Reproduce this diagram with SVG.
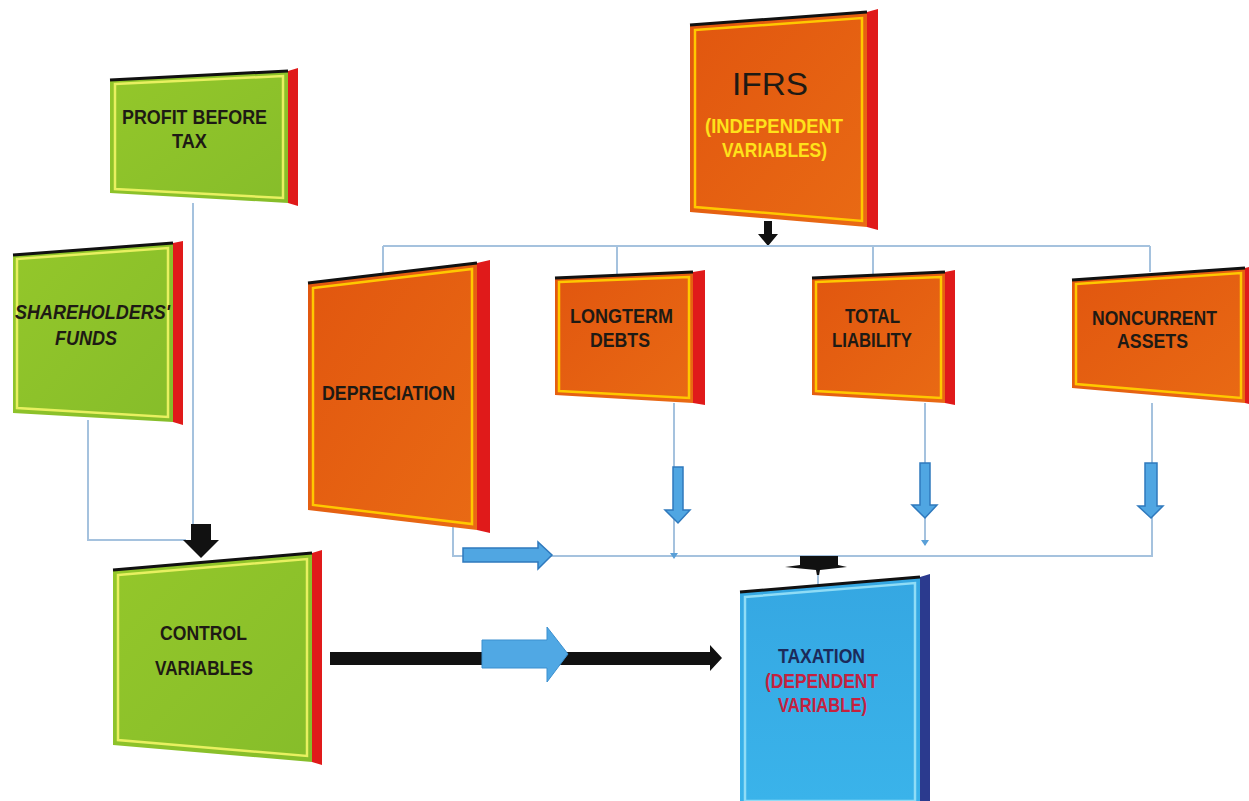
<svg xmlns="http://www.w3.org/2000/svg" width="1249" height="801" viewBox="0 0 1249 801">
<defs>
<linearGradient id="gGreen" x1="0" y1="0" x2="1" y2="1"><stop offset="0" stop-color="#94c72a"/><stop offset="1" stop-color="#86bd2a"/></linearGradient>
<linearGradient id="gOrange" x1="0" y1="0" x2="1" y2="1"><stop offset="0" stop-color="#e1560f"/><stop offset="1" stop-color="#e96a14"/></linearGradient>
<linearGradient id="gBlue" x1="0" y1="0" x2="0" y2="1"><stop offset="0" stop-color="#35a7e2"/><stop offset="1" stop-color="#3ab3ea"/></linearGradient>
<style>
.t{font-family:"Liberation Sans",Arial,sans-serif;font-size:21px;font-weight:bold;fill:#1e1a14;text-anchor:start}
.side{fill:#e01a1a}
.top{stroke:#111;stroke-width:3;fill:none}
.inG{fill:none;stroke:#e8f060;stroke-width:2.5}
.inO{fill:none;stroke:#ffc800;stroke-width:2.5}
.inB{fill:none;stroke:#8fdcf6;stroke-width:2.5}
.ln{fill:none;stroke:#a5c2de;stroke-width:2}
.ba{fill:#50a6e2;stroke:#2f79bd;stroke-width:1.5}
.blk{fill:#111}
</style>
</defs>
<rect width="1249" height="801" fill="#fff"/>

<g id="connectors">
<line class="ln" x1="193" y1="203" x2="193" y2="527"/>
<polyline class="ln" points="88,420 88,540 186,540"/>
<polygon class="blk" points="191,524 211,524 211,540 219,540 201,558 183,540 191,540"/>
<polygon class="blk" points="764,221 772,221 772,234 778,234 768,246 758,234 764,234"/>
<polyline class="ln" points="383,246 1150,246"/>
<line class="ln" x1="383" y1="246" x2="383" y2="274"/>
<line class="ln" x1="617" y1="246" x2="617" y2="276"/>
<line class="ln" x1="873" y1="246" x2="873" y2="276"/>
<line class="ln" x1="1150" y1="246" x2="1150" y2="272"/>
<line class="ln" x1="674" y1="403" x2="674" y2="556"/>
<line class="ln" x1="925" y1="403" x2="925" y2="545"/>
<polyline class="ln" points="1152,403 1152,556 455,556"/>
<polyline class="ln" points="421,493 453,493 453,556 464,556"/>
<polygon fill="#5aa0d8" points="670,553 678,553 674,559"/>
<polygon fill="#5aa0d8" points="921,540 929,540 925,546"/>
<polygon class="ba" points="463,548 538,548 538,542 552,555 538,569 538,562 463,562"/>
<polygon class="ba" points="673,467 683,467 683,510 690,510 678,523 665,510 673,510"/>
<polygon class="ba" points="920,463 930,463 930,505 937,505 925,518 912,505 920,505"/>
<polygon class="ba" points="1145,463 1157,463 1157,506 1163,506 1151,518 1138,506 1145,506"/>
<polygon class="blk" points="800,556 838,556 838,565 847,567 820,570 818,581 816,570 785,567 800,565"/>
<line class="ln" x1="818" y1="575" x2="818" y2="589"/>
<polygon class="blk" points="330,652 710,652 710,645 722,658 710,671 710,665 330,665"/>
<polygon fill="#50a8e4" stroke="#3b8fcf" stroke-width="1" points="482,640 547,640 547,627 568,654 547,682 547,668 482,668"/>
</g>

<g id="node-profit-before-tax">
<polygon class="side" points="288,71 298,68 298,206 288,203"/>
<polygon fill="url(#gGreen)" points="110,80 288,71 288,203 110,193"/>
<polygon class="inG" points="115,84 283,76 283,198 115,189"/>
<line class="top" x1="110" y1="80" x2="288" y2="71"/>
<text class="t" x="122" y="124" textLength="145" lengthAdjust="spacingAndGlyphs">PROFIT BEFORE</text>
<text class="t" x="172" y="148" textLength="35" lengthAdjust="spacingAndGlyphs">TAX</text>
</g>

<g id="node-shareholders-funds">
<polygon class="side" points="173,243 183,241 183,425 173,422"/>
<polygon fill="url(#gGreen)" points="13,255 173,243 173,422 13,413"/>
<polygon class="inG" points="17,259 168,248 168,417 17,408"/>
<line class="top" x1="13" y1="255" x2="173" y2="243"/>
<text class="t" x="15" y="319" style="font-style:italic" textLength="155" lengthAdjust="spacingAndGlyphs">SHAREHOLDERS'</text>
<text class="t" x="55" y="345" style="font-style:italic" textLength="62" lengthAdjust="spacingAndGlyphs">FUNDS</text>
</g>

<g id="node-ifrs">
<polygon class="side" points="867,12 878,9 878,230 867,227"/>
<polygon fill="url(#gOrange)" points="690,25 867,12 867,227 690,212"/>
<polygon class="inO" points="695,30 862,18 862,221 695,207"/>
<line class="top" x1="690" y1="25" x2="867" y2="12"/>
<text class="t" x="732" y="95" style="font-size:32px;font-weight:normal" textLength="76" lengthAdjust="spacingAndGlyphs">IFRS</text>
<text class="t" x="705" y="133" style="fill:#ffe21a" textLength="138" lengthAdjust="spacingAndGlyphs">(INDEPENDENT</text>
<text class="t" x="722" y="157" style="fill:#ffe21a" textLength="105" lengthAdjust="spacingAndGlyphs">VARIABLES)</text>
</g>

<g id="node-depreciation">
<polygon class="side" points="477,263 490,260 490,533 477,530"/>
<polygon fill="url(#gOrange)" points="308,283 477,263 477,530 308,510"/>
<polygon class="inO" points="313,288 472,269 472,524 313,505"/>
<line class="top" x1="308" y1="283" x2="477" y2="263"/>
<text class="t" x="322" y="400" textLength="133" lengthAdjust="spacingAndGlyphs">DEPRECIATION</text>
</g>

<g id="node-longterm-debts">
<polygon class="side" points="693,272 705,270 705,405 693,403"/>
<polygon fill="url(#gOrange)" points="555,278 693,272 693,403 555,395"/>
<polygon class="inO" points="559,282 689,277 689,398 559,391"/>
<line class="top" x1="555" y1="278" x2="693" y2="272"/>
<text class="t" x="570" y="323" textLength="103" lengthAdjust="spacingAndGlyphs">LONGTERM</text>
<text class="t" x="590" y="347" textLength="60" lengthAdjust="spacingAndGlyphs">DEBTS</text>
</g>

<g id="node-total-liability">
<polygon class="side" points="945,272 955,270 955,405 945,403"/>
<polygon fill="url(#gOrange)" points="812,278 945,272 945,403 812,395"/>
<polygon class="inO" points="816,282 941,277 941,398 816,391"/>
<line class="top" x1="812" y1="278" x2="945" y2="272"/>
<text class="t" x="845" y="323" textLength="55" lengthAdjust="spacingAndGlyphs">TOTAL</text>
<text class="t" x="832" y="347" textLength="80" lengthAdjust="spacingAndGlyphs">LIABILITY</text>
</g>

<g id="node-noncurrent-assets">
<polygon class="side" points="1245,268 1249,267 1249,404 1245,403"/>
<polygon fill="url(#gOrange)" points="1072,280 1245,268 1245,403 1072,388"/>
<polygon class="inO" points="1076,284 1241,273 1241,398 1076,384"/>
<line class="top" x1="1072" y1="280" x2="1245" y2="268"/>
<text class="t" x="1092" y="325" textLength="125" lengthAdjust="spacingAndGlyphs">NONCURRENT</text>
<text class="t" x="1117" y="348" textLength="71" lengthAdjust="spacingAndGlyphs">ASSETS</text>
</g>

<g id="node-control-variables">
<polygon class="side" points="312,553 322,550 322,765 312,762"/>
<polygon fill="url(#gGreen)" points="113,570 312,553 312,762 113,745"/>
<polygon class="inG" points="118,575 307,559 307,756 118,740"/>
<line class="top" x1="113" y1="570" x2="312" y2="553"/>
<text class="t" x="160" y="640" textLength="87" lengthAdjust="spacingAndGlyphs">CONTROL</text>
<text class="t" x="155" y="675" textLength="98" lengthAdjust="spacingAndGlyphs">VARIABLES</text>
</g>

<g id="node-taxation">
<polygon fill="#2b3a8e" points="920,577 930,574 930,801 920,801"/>
<polygon fill="url(#gBlue)" points="740,592 920,577 920,801 740,801"/>
<polygon class="inB" points="745,597 915,583 915,801 745,801"/>
<line class="top" x1="740" y1="592" x2="920" y2="577"/>
<text class="t" x="778" y="663" style="fill:#1c2a5a" textLength="87" lengthAdjust="spacingAndGlyphs">TAXATION</text>
<text class="t" x="765" y="688" style="fill:#c5213f" textLength="113" lengthAdjust="spacingAndGlyphs">(DEPENDENT</text>
<text class="t" x="778" y="712" style="fill:#c5213f" textLength="89" lengthAdjust="spacingAndGlyphs">VARIABLE)</text>
</g>
</svg>
